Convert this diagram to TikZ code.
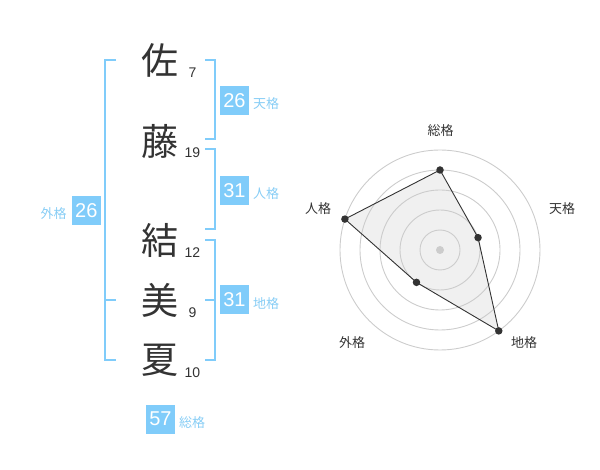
\documentclass[tikz,border=0pt]{standalone}
\usepackage{fontspec}
\setmainfont{Liberation Sans}
\newfontfamily\cjk{Noto Sans CJK JP}
\definecolor{boxblue}{RGB}{128,204,250}
\definecolor{lblblue}{RGB}{135,205,245}
\definecolor{ink}{RGB}{51,51,51}
\definecolor{ringgrey}{RGB}{204,204,204}
\definecolor{areagrey}{RGB}{240,240,240}
\begin{document}
\begin{tikzpicture}[x=1pt,y=-1pt,
  kanji/.style={inner sep=0pt,text=ink,font=\cjk\fontsize{37}{37}\selectfont},
  strokes/.style={inner sep=0pt,text=ink,font=\fontsize{14}{14}\selectfont},
  valbox/.style={fill=boxblue,text=white,minimum size=29pt,inner sep=0pt,font=\fontsize{20}{20}\selectfont},
  kaku/.style={inner sep=0pt,text=lblblue,font=\cjk\fontsize{13}{13}\selectfont},
  axislbl/.style={inner sep=0pt,text=ink,font=\cjk\fontsize{13}{13}\selectfont},
  bracket/.style={draw=boxblue,line width=2pt},
  ring/.style={draw=ringgrey,line width=0.9pt},
  dot/.style={circle,fill=ink,inner sep=0pt,minimum size=7.5pt}]
\useasboundingbox (0,0) rectangle (600,470);
% name characters
\node[kanji] (k1) at (160,60) {佐};
\node[kanji] (k2) at (160,141) {藤};
\node[kanji] (k3) at (160,240) {結};
\node[kanji] (k4) at (160,300) {美};
\node[kanji] (k5) at (160,360) {夏};
\node[strokes] (s1) at (192.5,72.7) {7};
\node[strokes] (s2) at (192.5,152.7) {19};
\node[strokes] (s3) at (192.5,252.5) {12};
\node[strokes] (s4) at (192.5,312.7) {9};
\node[strokes] (s5) at (192.5,372.7) {10};
% brackets
\draw[bracket] (116,60) -- (105,60) -- (105,360) -- (116,360);
\draw[bracket] (105,300) -- (116,300);
\draw[bracket] (205,60) -- (215,60) -- (215,139.5) -- (205,139.5);
\draw[bracket] (205,149.5) -- (215,149.5) -- (215,229.5) -- (205,229.5);
\draw[bracket] (205,240) -- (215,240) -- (215,360) -- (205,360);
\draw[bracket] (205,300) -- (215,300);
% values
\node[valbox] (ten) at (234.5,100.5) {26};
\node[kaku] (tenl) at (266,104) {天格};
\node[valbox] (jin) at (234.5,190.5) {31};
\node[kaku] (jinl) at (266,194) {人格};
\node[valbox] (chi) at (234.5,299.5) {31};
\node[kaku] (chil) at (266,304) {地格};
\node[valbox] (gai) at (86.3,210.5) {26};
\node[kaku] (gail) at (53.5,213.5) {外格};
\node[valbox] (sou) at (160.5,419) {57};
\node[kaku] (soul) at (192,422.5) {総格};
% radar chart
\coordinate (c) at (440,250);
\coordinate (pS) at (440,170);
\coordinate (pT) at (478.04,237.64);
\coordinate (pC) at (498.78,330.9);
\coordinate (pG) at (416.49,282.36);
\coordinate (pJ) at (344.9,219.1);
\fill[areagrey] (pS) -- (pT) -- (pC) -- (pG) -- (pJ) -- cycle;
\foreach \r in {20,40,60,80,100} \draw[ring] (c) circle[radius=\r];
\fill[ringgrey] (c) circle[radius=4];
\draw[ink,line width=0.9pt] (pS) -- (pT) -- (pC) -- (pG) -- (pJ) -- cycle;
\foreach \p in {pS,pT,pC,pG,pJ} \node[dot] at (\p) {};
\node[axislbl] (aS) at (440.5,130.5) {総格};
\node[axislbl] (aT) at (562,208.5) {天格};
\node[axislbl] (aC) at (524,342.5) {地格};
\node[axislbl] (aG) at (352,342.5) {外格};
\node[axislbl] (aJ) at (318,208.5) {人格};
\end{tikzpicture}
\end{document}
